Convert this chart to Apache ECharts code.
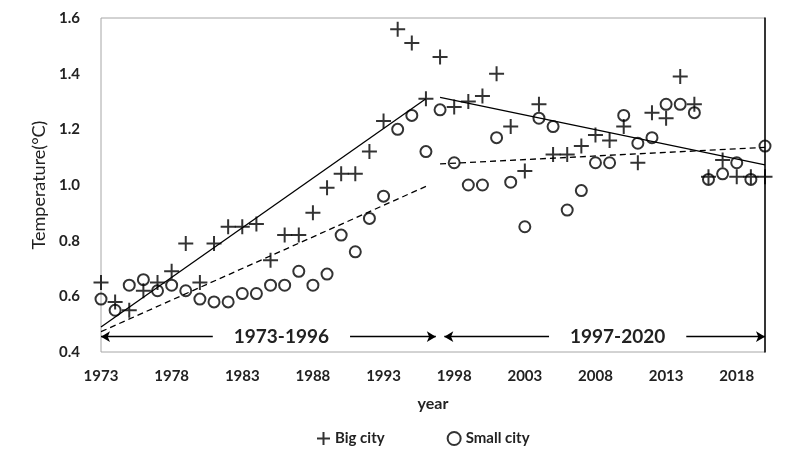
<!DOCTYPE html>
<html>
<head>
<meta charset="utf-8">
<script src="https://cdn.jsdelivr.net/npm/echarts@6/dist/echarts.min.js"></script>
<style>
  html, body { margin: 0; padding: 0; background: #fff; }
  #main { width: 800px; height: 471px; }
</style>
</head>
<body>
<div id="main"></div>
<script>
  const years = Array.from({ length: 48 }, (_, i) => 1973 + i)

  const bigCity = [
    0.65, 0.58, 0.55, 0.62, 0.65, 0.69, 0.79, 0.65, 0.79, 0.85,
    0.85, 0.86, 0.73, 0.82, 0.82, 0.90, 0.99, 1.04, 1.04, 1.12,
    1.23, 1.56, 1.51, 1.31, 1.46, 1.28, 1.30, 1.32, 1.40, 1.21,
    1.05, 1.29, 1.11, 1.11, 1.14, 1.18, 1.16, 1.21, 1.08, 1.26,
    1.24, 1.39, 1.29, 1.03, 1.09, 1.03, 1.03, 1.03,
  ]

  const smallCity = [
    0.59, 0.55, 0.64, 0.66, 0.62, 0.64, 0.62, 0.59, 0.58, 0.58,
    0.61, 0.61, 0.64, 0.64, 0.69, 0.64, 0.68, 0.82, 0.76, 0.88,
    0.96, 1.20, 1.25, 1.12, 1.27, 1.08, 1.00, 1.00, 1.17, 1.01,
    0.85, 1.24, 1.21, 0.91, 0.98, 1.08, 1.08, 1.25, 1.15, 1.17,
    1.29, 1.29, 1.26, 1.02, 1.04, 1.08, 1.02, 1.14,
  ]

  // trend line end points [year, value]
  const bigTrend1 = [[1973, 0.49], [1996, 1.31]]
  const bigTrend2 = [[1997, 1.315], [2020, 1.072]]
  const smallTrend1 = [[1973, 0.473], [1996, 0.995]]
  const smallTrend2 = [[1997, 1.076], [2020, 1.135]]

  const periods = ['1973-1996', '1997-2020']
  const periodSpans = [[1973, 1996.7], [1997.3, 2020]]
  const arrowLevel = 0.455

  const font = 'Lato, "Open Sans", sans-serif'
  const plusPath = 'path://M0,-10 L0,10 M-10,0 L10,0'

  const pair = (arr) => years.map((y, i) => [y, arr[i]])

  const chart = echarts.init(document.getElementById('main'))

  const trendSeries = (data, dashed) => ({
    type: 'line',
    data: data,
    showSymbol: false,
    silent: true,
    lineStyle: {
      color: '#000',
      width: 1.3,
      type: dashed ? [6, 4] : 'solid',
    },
    z: 1,
  })

  chart.setOption({
    animation: false,
    textStyle: { fontFamily: font },
    grid: {
      left: 101,
      right: 35,
      top: 18,
      bottom: 119,
      show: true,
      borderColor: '#a6a6a6',
      borderWidth: 1,
    },
    legend: {
      bottom: 20,
      left: 311,
      itemGap: 62,
      itemWidth: 13,
      itemHeight: 13,
      textStyle: { fontFamily: font, fontWeight: 'bold', fontSize: 15, color: '#222' },
      data: [
        { name: 'Big city', icon: plusPath },
        { name: 'Small city', icon: 'circle' },
      ],
    },
    xAxis: {
      type: 'value',
      min: 1973,
      max: 2020,
      interval: 5,
      name: 'year',
      nameLocation: 'middle',
      nameGap: 44,
      nameTextStyle: { fontFamily: font, fontWeight: 'bold', fontSize: 16, color: '#222' },
      axisLine: { show: false },
      axisTick: { show: false },
      splitLine: { show: false },
      axisLabel: {
        showMaxLabel: false,
        margin: 17,
        fontFamily: font,
        fontWeight: 'bold',
        fontSize: 15,
        color: '#222',
        formatter: (v) => String(v),
      },
    },
    yAxis: [
      {
        type: 'value',
        min: 0.4,
        max: 1.6,
        interval: 0.2,
        name: 'Temperature(°C)',
        nameLocation: 'middle',
        nameGap: 53,
        nameTextStyle: { fontFamily: font, fontSize: 18, color: '#222' },
        axisLine: { show: false },
        axisTick: { show: false },
        splitLine: { show: false },
        axisLabel: {
          margin: 21,
          fontFamily: font,
          fontWeight: 'bold',
          fontSize: 15,
          color: '#222',
          formatter: (v) => v.toFixed(1),
        },
      },
      {
        type: 'value',
        position: 'right',
        min: 0.4,
        max: 1.6,
        axisLine: { show: true, lineStyle: { color: '#000', width: 1.5 } },
        axisTick: { show: false },
        axisLabel: { show: false },
        splitLine: { show: false },
      },
    ],
    series: [
      trendSeries(bigTrend1, false),
      trendSeries(bigTrend2, false),
      trendSeries(smallTrend1, true),
      trendSeries(smallTrend2, true),
      {
        name: 'Big city',
        type: 'scatter',
        symbol: plusPath,
        symbolSize: 15,
        data: pair(bigCity),
        itemStyle: { color: 'transparent', borderColor: '#000', borderWidth: 2 },
        z: 3,
      },
      {
        name: 'Small city',
        type: 'scatter',
        symbol: 'circle',
        symbolSize: 11,
        data: pair(smallCity),
        itemStyle: { color: 'transparent', borderColor: '#000', borderWidth: 2 },
        z: 3,
      },
      {
        type: 'line',
        data: [],
        silent: true,
        markLine: {
          silent: true,
          symbol: ['arrow', 'arrow'],
          symbolSize: [8, 9],
          lineStyle: { color: '#000', width: 1.3, type: 'solid' },
          label: {
            show: true,
            position: 'middle',
            distance: 0,
            verticalAlign: 'middle',
            offset: [13, 0],
            formatter: (p) => p.name,
            backgroundColor: '#fff',
            padding: [2, 21],
            fontFamily: font,
            fontWeight: 'bold',
            fontSize: 19,
            color: '#222',
          },
          data: periods.map((name, i) => [
            { name: name, coord: [periodSpans[i][0], arrowLevel] },
            { coord: [periodSpans[i][1], arrowLevel] },
          ]),
        },
      },
    ],
  })
</script>
</body>
</html>
